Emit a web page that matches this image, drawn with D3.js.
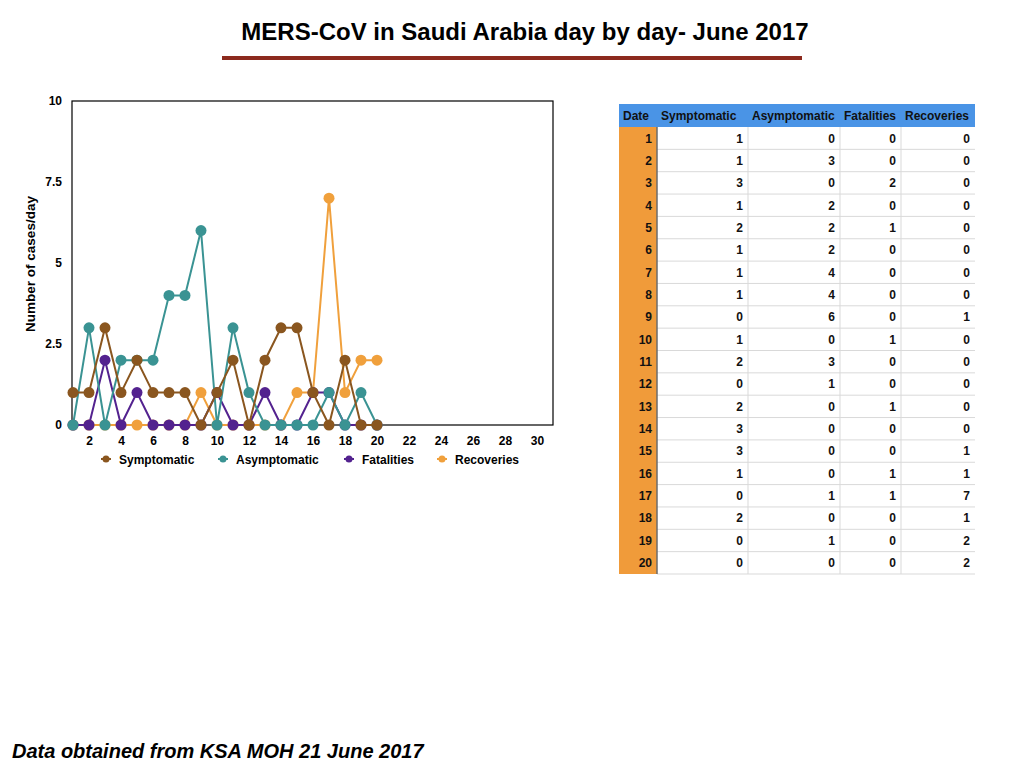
<!DOCTYPE html>
<html>
<head>
<meta charset="utf-8">
<script src="https://cdn.jsdelivr.net/npm/d3@7"></script>
<style>
  body { margin: 0; background: #fff; }
  svg { font-family: "Liberation Sans", Arial, sans-serif; }
</style>
</head>
<body>
<div id="chart"></div>
<script>
// data, June 2017
var days = [1,2,3,4,5,6,7,8,9,10,11,12,13,14,15,16,17,18,19,20];
var symptomatic  = [1,1,3,1,2,1,1,1,0,1,2,0,2,3,3,1,0,2,0,0];
var asymptomatic = [0,3,0,2,2,2,4,4,6,0,3,1,0,0,0,0,1,0,1,0];
var fatalities   = [0,0,2,0,1,0,0,0,0,1,0,0,1,0,0,1,1,0,0,0];
var recoveries   = [0,0,0,0,0,0,0,0,1,0,0,0,0,0,1,1,7,1,2,2];
var seriesNames = ["Symptomatic","Asymptomatic","Fatalities","Recoveries"];
var xTicks = [2,4,6,8,10,12,14,16,18,20,22,24,26,28,30];
var yTicks = [0,2.5,5,7.5,10];

var colors = {
    Symptomatic: "#8a561f",
    Asymptomatic: "#3a9393",
    Fatalities: "#53228f",
    Recoveries: "#f0a03c"
};
var values = {
    Symptomatic: symptomatic,
    Asymptomatic: asymptomatic,
    Fatalities: fatalities,
    Recoveries: recoveries
};

var svg = d3.select("#chart").append("svg")
    .attr("width", 1024).attr("height", 768);

// title + rule
svg.append("text")
    .attr("x", 525).attr("y", 40)
    .attr("text-anchor", "middle")
    .style("font-size", "24px").style("font-weight", "bold")
    .text("MERS-CoV in Saudi Arabia day by day- June 2017");
svg.append("rect")
    .attr("x", 222).attr("y", 56).attr("width", 580).attr("height", 4)
    .attr("fill", "#8c2a1e");

// chart
var x = d3.scaleLinear().domain([1, 31]).range([73, 553]);
var y = d3.scaleLinear().domain([0, 10]).range([425, 101]);

svg.append("rect")
    .attr("x", 72).attr("y", 101).attr("width", 481).attr("height", 324)
    .attr("fill", "none").attr("stroke", "#000").attr("stroke-width", 1.2);

var yAxis = svg.append("g").attr("transform", "translate(72,0)")
    .call(d3.axisLeft(y).tickValues(yTicks).tickSize(0).tickPadding(10)
        .tickFormat(function(d){ return d; }));
yAxis.select(".domain").remove();
yAxis.selectAll("text").style("font-size", "12px").style("font-weight", "bold")
    .attr("font-family", null);

var xAxis = svg.append("g").attr("transform", "translate(0,425)")
    .call(d3.axisBottom(x).tickValues(xTicks).tickSize(0).tickPadding(11));
xAxis.select(".domain").remove();
xAxis.selectAll("text").style("font-size", "12px").style("font-weight", "bold")
    .attr("font-family", null);

svg.append("text")
    .attr("transform", "translate(35,264) rotate(-90)")
    .attr("text-anchor", "middle")
    .style("font-size", "13.5px").style("font-weight", "bold")
    .text("Number of cases/day");

// recoveries at the bottom, symptomatic on top
var drawOrder = ["Recoveries","Fatalities","Asymptomatic","Symptomatic"];
var line = d3.line()
    .x(function(d){ return x(d.day); })
    .y(function(d){ return y(d.v); });

drawOrder.forEach(function(name){
    var pts = days.map(function(d, i){ return {day: d, v: values[name][i]}; });
    var g = svg.append("g");
    g.append("path").datum(pts)
        .attr("d", line)
        .attr("fill", "none")
        .attr("stroke", colors[name])
        .attr("stroke-width", 2);
    g.selectAll("circle").data(pts).enter().append("circle")
        .attr("cx", function(d){ return x(d.day); })
        .attr("cy", function(d){ return y(d.v); })
        .attr("r", 5.5)
        .attr("fill", colors[name]);
});

// legend
var legendX = [106, 223, 349, 442];
var legend = svg.append("g");
seriesNames.forEach(function(name, i){
    var lg = legend.append("g").attr("transform", "translate(" + legendX[i] + ",459)");
    lg.append("line").attr("x1", -5).attr("x2", 5)
        .attr("stroke", colors[name]).attr("stroke-width", 2);
    lg.append("circle").attr("r", 3.5).attr("fill", colors[name]);
    lg.append("text").attr("x", 13).attr("y", 4.5)
        .style("font-size", "12px").style("font-weight", "bold")
        .text(name);
});

// table
var colEdges = [619, 657, 748, 840, 901, 975];
var headers = ["Date"].concat(seriesNames);
var tableTop = 104, headH = 23, rowH = 22.35;
var table = svg.append("g");

table.append("rect")
    .attr("x", colEdges[0]).attr("y", tableTop)
    .attr("width", colEdges[5] - colEdges[0]).attr("height", headH)
    .attr("fill", "#4a94e6");
table.append("rect")
    .attr("x", colEdges[0]).attr("y", tableTop + headH)
    .attr("width", colEdges[1] - colEdges[0]).attr("height", rowH * days.length)
    .attr("fill", "#f09b3a");

headers.forEach(function(h, c){
    table.append("text")
        .attr("x", colEdges[c] + 4).attr("y", tableTop + 16)
        .style("font-size", "12px").style("font-weight", "bold")
        .attr("fill", "#111")
        .text(h);
});

// grid
days.forEach(function(d, r){
    var yb = tableTop + headH + rowH * (r + 1);
    table.append("line")
        .attr("x1", colEdges[1]).attr("x2", colEdges[5])
        .attr("y1", yb).attr("y2", yb)
        .attr("stroke", "#d9d9d9").attr("stroke-width", 1);
});
[2,3,4].forEach(function(c){
    table.append("line")
        .attr("x1", colEdges[c]).attr("x2", colEdges[c])
        .attr("y1", tableTop + headH).attr("y2", tableTop + headH + rowH * days.length)
        .attr("stroke", "#d9d9d9").attr("stroke-width", 1);
});
table.append("line")
    .attr("x1", colEdges[1]).attr("x2", colEdges[1])
    .attr("y1", tableTop + headH).attr("y2", tableTop + headH + rowH * days.length)
    .attr("stroke", "#6b6b6b").attr("stroke-width", 1.5);

days.forEach(function(d, r){
    var row = [d, symptomatic[r], asymptomatic[r], fatalities[r], recoveries[r]];
    row.forEach(function(v, c){
        table.append("text")
            .attr("x", colEdges[c + 1] - 5)
            .attr("y", tableTop + headH + rowH * r + 15.5)
            .attr("text-anchor", "end")
            .style("font-size", "12px").style("font-weight", "bold")
            .attr("fill", "#111")
            .text(v);
    });
});

// source note
svg.append("text")
    .attr("x", 12).attr("y", 758)
    .style("font-size", "20px").style("font-weight", "bold").style("font-style", "italic")
    .text("Data obtained from KSA MOH 21 June 2017");
</script>
</body>
</html>
